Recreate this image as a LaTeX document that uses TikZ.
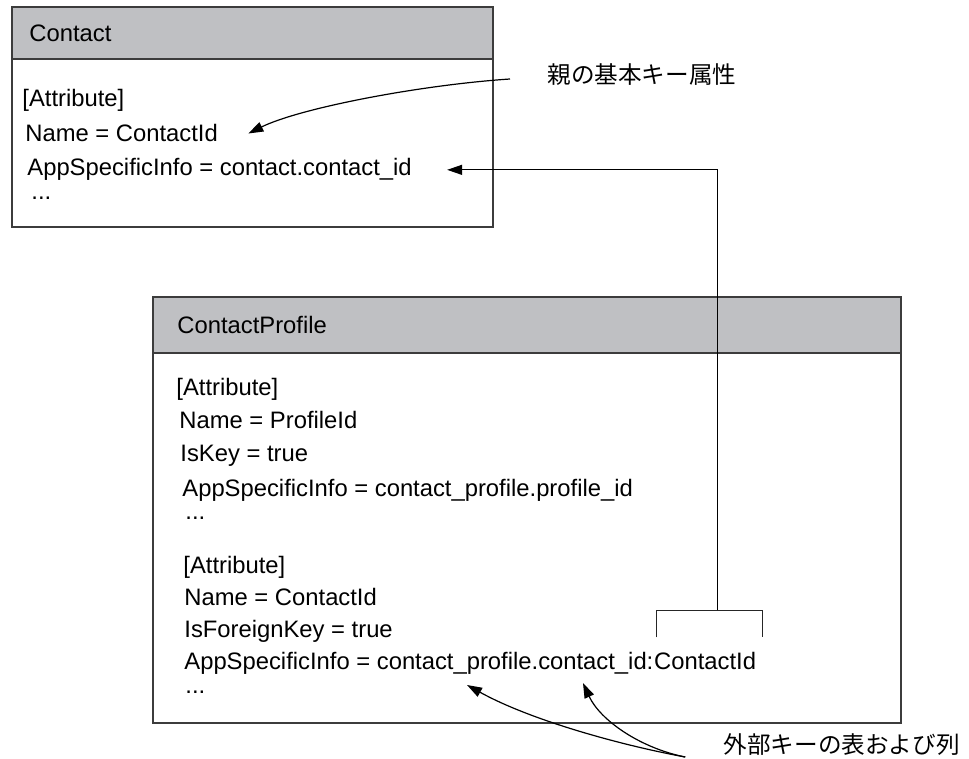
\documentclass[tikz,border=0pt]{standalone}
\usepackage{fontspec}
\setmainfont{Liberation Sans}
\newfontfamily\jafont{Noto Sans CJK JP}
\usepackage{tikz}
\usetikzlibrary{arrows.meta}
\definecolor{headgray}{HTML}{BFC0C3}
\definecolor{edgegray}{HTML}{3C3C3C}

\begin{document}
\begin{tikzpicture}[x=0.5pt, y=-0.5pt,
  boxline/.style={draw=edgegray, line width=1pt},
  txt/.style={anchor=base west, inner sep=0pt, font=\fontsize{11.9}{14}\selectfont},
  jtxt/.style={inner sep=0pt, font=\jafont\fontsize{11.8}{14}\selectfont},
  conn/.style={-{Triangle[length=7.5pt,width=5pt]}, line width=0.6pt},
  brk/.style={line width=0.65pt, draw=black!85}]
%\draw (0,0) grid (969,759);
\useasboundingbox (0,0) rectangle (969,759);

\draw [boxline, fill=headgray] (12,7) rectangle (493,59);
\draw [boxline] (12,59) rectangle (493,227);
\node [txt] (ctitle) at (29,42) {Contact};
\node [txt] (cattr) at (22,107) {[Attribute]};
\node [txt] (cname) at (25,142) {Name = ContactId};
\node [txt] (capp) at (27,176) {AppSpecificInfo = contact.contact\_id};
\node [txt] (cdots) at (31,200) {...};

\draw [boxline, fill=headgray] (153,297) rectangle (901,353);
\draw [boxline] (153,353) rectangle (901,723);
\node [txt] (ptitle) at (177,334) {ContactProfile};
\node [txt] (pattr) at (176,395) {[Attribute]};
\node [txt] (pname) at (179,428) {Name = ProfileId};
\node [txt] (pkey) at (180,461) {IsKey = true};
\node [txt] (papp) at (182,496) {AppSpecificInfo = contact\_profile.profile\_id};
\node [txt] (pdots) at (185,519) {...};
\node [txt] (fattr) at (183,573) {[Attribute]};
\node [txt] (fname) at (184,605) {Name = ContactId};
\node [txt] (fkey) at (184,637) {IsForeignKey = true};
\node [txt] (fapp) at (184,669) {AppSpecificInfo = contact\_profile.contact\_id:};
\node [txt] (fcid) at (fapp.base east) {ContactId};
\node [txt] (fdots) at (185,693) {...};

\node [jtxt, anchor=west] (pklabel) at (547,75) {親の基本キー属性};
\node [jtxt, anchor=east] (fklabel) at (960,745) {外部キーの表および列};

% bracket over ContactId
\draw [brk] ([xshift=1.5pt,yshift=7pt]fcid.north west) |- ([xshift=3pt,yshift=20.5pt]fcid.north east)
  -- ([xshift=3pt,yshift=7pt]fcid.north east);
\coordinate (brktop) at ([xshift=6pt,yshift=20.5pt]fcid.north);

\draw [conn] ([xshift=-18.5pt,yshift=-2pt]pklabel.west) .. controls (420,85) and (300,108) .. ([xshift=15pt]cname.east);
\draw [conn] (brktop) |- ([xshift=17.5pt]capp.east);

\coordinate (fkfrom) at ([xshift=-19pt,yshift=-6pt]fklabel.west);
\coordinate (tbltip) at (467,685);
\coordinate (coltip) at (583,683);
\draw [conn] (fkfrom) .. controls (620,745) and (530,720) .. (tbltip);
\draw [conn] (fkfrom) .. controls (640,748) and (600,720) .. (coltip);
\end{tikzpicture}
\end{document}
